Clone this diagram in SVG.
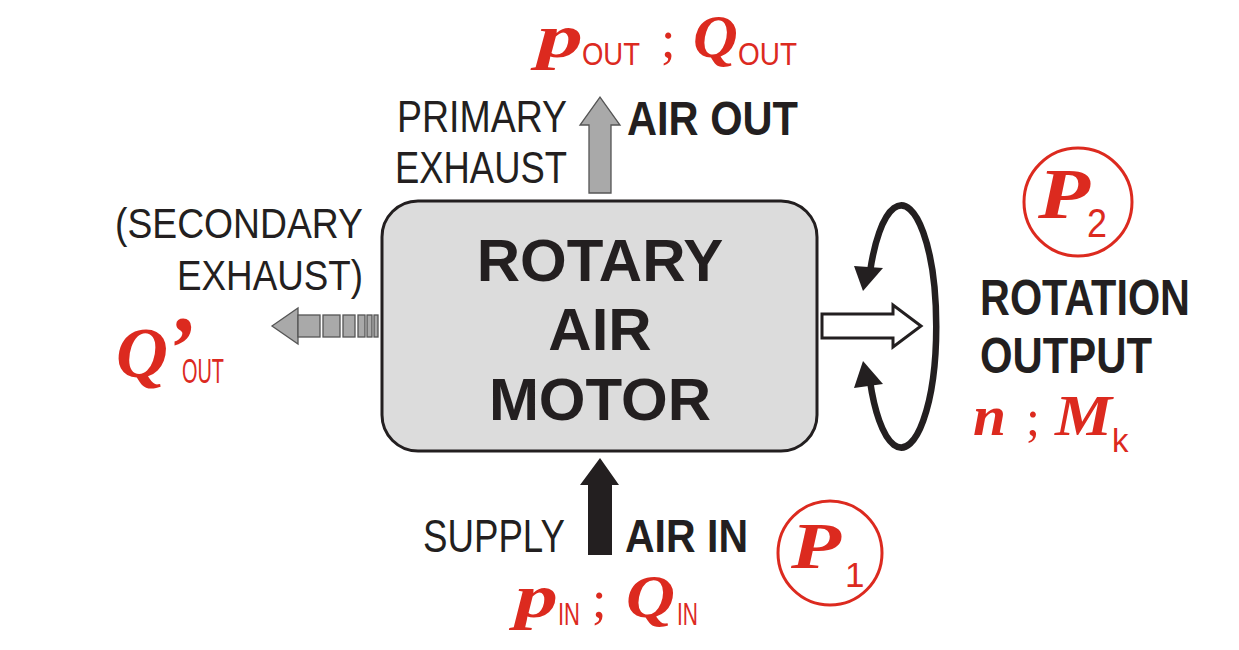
<svg xmlns="http://www.w3.org/2000/svg" width="1239" height="650" viewBox="0 0 1239 650">
<style>
.sans{font-family:"Liberation Sans",Arial,sans-serif;fill:#231f20}
.b{font-weight:bold}
.m{font-family:"Liberation Serif","Times New Roman",serif;font-weight:bold;font-style:italic;fill:#dc2a1f}
.sc{font-family:"Liberation Serif","Times New Roman",serif;fill:#dc2a1f}
.rs{font-family:"Liberation Sans",Arial,sans-serif;fill:#dc2a1f;font-weight:normal;font-style:normal}
.circ{fill:none;stroke:#dc2a1f;stroke-width:3}
.gray{fill:#a9a9a9;stroke:#555;stroke-width:1.3}
</style>
<rect width="1239" height="650" fill="#fff"/>
<g id="motor">
<rect x="382" y="201" width="435" height="250" rx="36" fill="#dcdcdc" stroke="#231f20" stroke-width="3"/>
<text class="sans b" font-size="60" text-anchor="middle" x="600" y="281">ROTARY</text>
<text class="sans b" font-size="60" text-anchor="middle" x="600" y="350">AIR</text>
<text class="sans b" font-size="60" text-anchor="middle" x="600" y="420">MOTOR</text>
</g>
<g id="connectors">
<polygon class="gray" points="589,193 589,125 580,125 600,97 620,125 611,125 611,193"/>
<polygon fill="#231f20" points="588,555 588,485 580,485 600,458 619,485 612,485 612,555"/>
<g id="secondary-arrow">
<polygon class="gray" points="272,326 298,308 298,344"/>
<rect class="gray" x="298" y="315" width="22" height="22"/>
<rect class="gray" x="323" y="315" width="17" height="22"/>
<rect class="gray" x="343" y="315" width="12" height="22"/>
<rect class="gray" x="358" y="315" width="7" height="22"/>
<rect class="gray" x="367" y="315" width="5" height="22"/>
<rect class="gray" x="374" y="315" width="4" height="22"/>
</g>
<polygon fill="#fff" stroke="#231f20" stroke-width="3" points="822,314 893,314 893,305 921,326 893,347 893,338 822,338"/>
<path d="M 870 272 A 35 121 0 1 1 870 381" fill="none" stroke="#231f20" stroke-width="6.5"/>
<polygon fill="#231f20" points="854,266 883,268 863,291"/>
<polygon fill="#231f20" points="854,388 883,384 863,361"/>
</g>
<g id="air-out">
<text class="sans" font-size="44" x="397" y="132" textLength="170" lengthAdjust="spacingAndGlyphs">PRIMARY</text>
<text class="sans" font-size="44" x="395" y="183" textLength="172" lengthAdjust="spacingAndGlyphs">EXHAUST</text>
<text class="sans b" font-size="48" x="627" y="135" textLength="171" lengthAdjust="spacingAndGlyphs">AIR OUT</text>
<text class="m" font-size="62" x="537" y="57" textLength="46" lengthAdjust="spacingAndGlyphs">p</text>
<text class="rs" font-size="31" x="582" y="65" textLength="58" lengthAdjust="spacingAndGlyphs">OUT</text>
<text class="sc" font-size="52" x="661" y="57">;</text>
<text class="m" font-size="62" x="693" y="57">Q</text>
<text class="rs" font-size="31" x="738" y="65" textLength="59" lengthAdjust="spacingAndGlyphs">OUT</text>
</g>
<g id="secondary">
<text class="sans" font-size="43" x="115" y="238" textLength="248" lengthAdjust="spacingAndGlyphs">(SECONDARY</text>
<text class="sans" font-size="43" x="177" y="290" textLength="186" lengthAdjust="spacingAndGlyphs">EXHAUST)</text>
<text class="m" font-size="72" x="116" y="377">Q<tspan x="165" font-size="88">’</tspan><tspan class="rs" x="182" y="383" font-size="35" textLength="42" lengthAdjust="spacingAndGlyphs">OUT</tspan></text>
</g>
<g id="rotation">
<circle class="circ" cx="1078" cy="202" r="54"/>
<text class="m" font-size="72" x="1038" y="218" textLength="52" lengthAdjust="spacingAndGlyphs">P</text>
<text class="rs" font-size="40" x="1087" y="237" textLength="20" lengthAdjust="spacingAndGlyphs">2</text>
<text class="sans b" font-size="50" x="980" y="315" textLength="210" lengthAdjust="spacingAndGlyphs">ROTATION</text>
<text class="sans b" font-size="50" x="980" y="373" textLength="172" lengthAdjust="spacingAndGlyphs">OUTPUT</text>
<text class="m" font-size="56" x="973" y="435" textLength="33" lengthAdjust="spacingAndGlyphs">n</text>
<text class="sc" font-size="50" x="1026" y="435">;</text>
<text class="m" font-size="57" x="1055" y="435" textLength="57" lengthAdjust="spacingAndGlyphs">M</text>
<text class="rs" font-size="33" x="1112" y="452">k</text>
</g>
<g id="air-in">
<text class="sans" font-size="46" x="423" y="552" textLength="142" lengthAdjust="spacingAndGlyphs">SUPPLY</text>
<text class="sans b" font-size="47" x="625" y="552" textLength="123" lengthAdjust="spacingAndGlyphs">AIR IN</text>
<text class="m" font-size="62" x="515" y="617" textLength="43" lengthAdjust="spacingAndGlyphs">p</text>
<text class="rs" font-size="31" x="558" y="625" textLength="22" lengthAdjust="spacingAndGlyphs">IN</text>
<text class="sc" font-size="52" x="592" y="617">;</text>
<text class="m" font-size="62" x="626" y="617" textLength="49" lengthAdjust="spacingAndGlyphs">Q</text>
<text class="rs" font-size="31" x="677" y="625" textLength="21" lengthAdjust="spacingAndGlyphs">IN</text>
<circle class="circ" cx="830" cy="553" r="52"/>
<text class="m" font-size="66" x="791" y="568" textLength="50" lengthAdjust="spacingAndGlyphs">P</text>
<text class="rs" font-size="35" x="845" y="587">1</text>
</g>
</svg>
